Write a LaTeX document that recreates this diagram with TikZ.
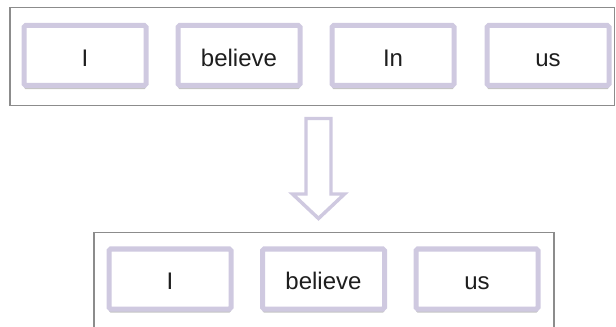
\documentclass[tikz,border=0pt]{standalone}
\usepackage{fontspec}
\setmainfont{Liberation Sans}
\usetikzlibrary{shadows}
\definecolor{lav}{HTML}{CFC9E0}
\definecolor{framegray}{HTML}{8C8C8C}
\definecolor{ink}{HTML}{1E1E1E}
\begin{document}
\begin{tikzpicture}[x=0.75pt,y=-0.75pt,
  word/.style={draw=lav, line width=3.75pt, fill=white, rounded corners=1.2pt,
    minimum width=91.5pt, minimum height=45pt, inner sep=0pt,
    text height=16pt, text depth=0.2pt, text=ink,
    font=\fontsize{18}{20}\selectfont,
    drop shadow={shadow xshift=0pt, shadow yshift=-2.8pt, opacity=0.35, fill=black!65}},
  frame/.style={draw=framegray, line width=0.9pt},
  bigarrow/.style={draw=lav, line width=2.6pt, fill=white, line join=miter}]
\useasboundingbox (0,0) rectangle (616,327);

% sentence before removal
\draw[frame] (10,7.5) rectangle (614.5,105.5);
\node[word] (a1) at (85,55.5) {I};
\node[word] (a2) at (239,55.5) {believe};
\node[word] (a3) at (393,55.5) {In};
\node[word] (a4) at (548,55.5) {us};

% hollow down arrow
\draw[bigarrow] (306,118.5) -- (331,118.5) -- (331,194) -- (344.5,194)
  -- (318.5,218.5) -- (292.5,194) -- (306,194) -- cycle;

% sentence after removal
\draw[frame] (94,340) -- (94,232.5) -- (554,232.5) -- (554,340);
\node[word] (b1) at (170,279) {I};
\node[word] (b2) at (323.5,279) {believe};
\node[word] (b3) at (477,279) {us};
\end{tikzpicture}
\end{document}
